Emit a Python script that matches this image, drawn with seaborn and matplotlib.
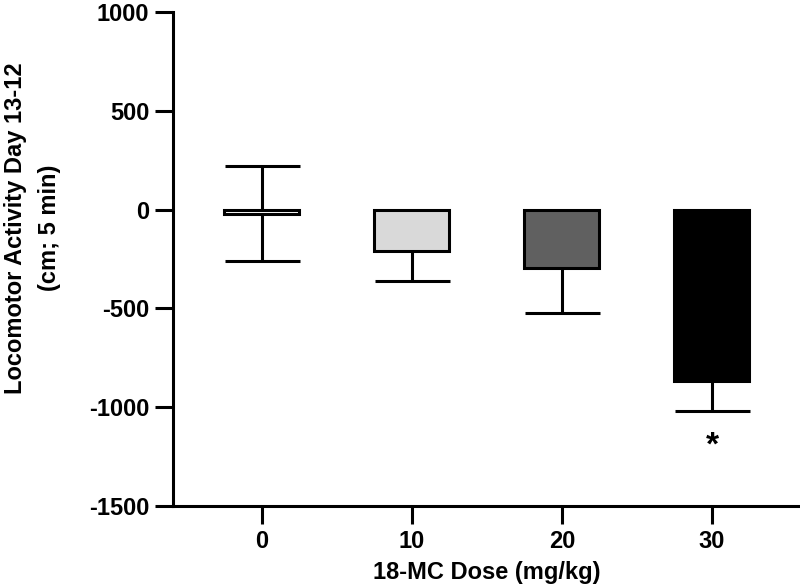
import numpy as np
import pandas as pd
import seaborn as sns
import matplotlib.pyplot as plt

# values
doses = ["0", "10", "20", "30"]
means = [-20, -208, -293, -865]
sems = [240, 155, 228, 152]
bar_colors = ["#ffffff", "#d9d9d9", "#606060", "#000000"]
y_ticks = [-1500, -1000, -500, 0, 500, 1000]

sns.set_theme(style="ticks")
plt.rcParams["font.family"] = ["Liberation Sans", "DejaVu Sans"]
plt.rcParams["font.weight"] = "bold"
plt.rcParams["text.color"] = "black"
plt.rcParams["axes.labelcolor"] = "black"

df = pd.DataFrame({"dose": doses, "mean": means, "sem": sems})

fig = plt.figure(figsize=(8, 5.86), dpi=100)
ax = fig.add_axes([0.216, 0.1365, 0.784, 0.843])

# error bars first so the bar bodies hide the inner whisker
ax.errorbar(
    x=np.arange(len(doses)),
    y=df["mean"],
    yerr=df["sem"],
    fmt="none",
    ecolor="black",
    elinewidth=2.2,
    capsize=27,
    capthick=2.2,
    zorder=1,
)

sns.barplot(
    data=df,
    x="dose",
    y="mean",
    hue="dose",
    palette=bar_colors,
    width=0.5,
    edgecolor="black",
    linewidth=2.2,
    errorbar=None,
    legend=False,
    ax=ax,
    zorder=2,
)

ax.text(3, -1195, "*", ha="center", va="center", fontsize=24, fontweight="bold")

ax.set_ylim(-1500, 1000)
ax.set_xlim(-0.593, 3.587)
ax.set_yticks(y_ticks)
ax.set_yticklabels([str(t) for t in y_ticks])

for side in ["top", "right"]:
    ax.spines[side].set_visible(False)
for side in ["left", "bottom"]:
    ax.spines[side].set_linewidth(2.2)
    ax.spines[side].set_color("black")

ax.tick_params(axis="both", length=13, width=2.2, color="black",
               labelsize=17, pad=4, labelcolor="black")
for lab in ax.get_xticklabels() + ax.get_yticklabels():
    lab.set_fontweight("bold")

ax.set_xlabel("18-MC Dose (mg/kg)", fontsize=17, fontweight="bold", labelpad=6)
ax.set_ylabel("Locomotor Activity Day 13-12\n(cm; 5 min)", fontsize=17,
              fontweight="bold", linespacing=1.6)
ax.yaxis.set_label_coords(-0.179, 0.563)

fig.savefig("out.png", dpi=100)
